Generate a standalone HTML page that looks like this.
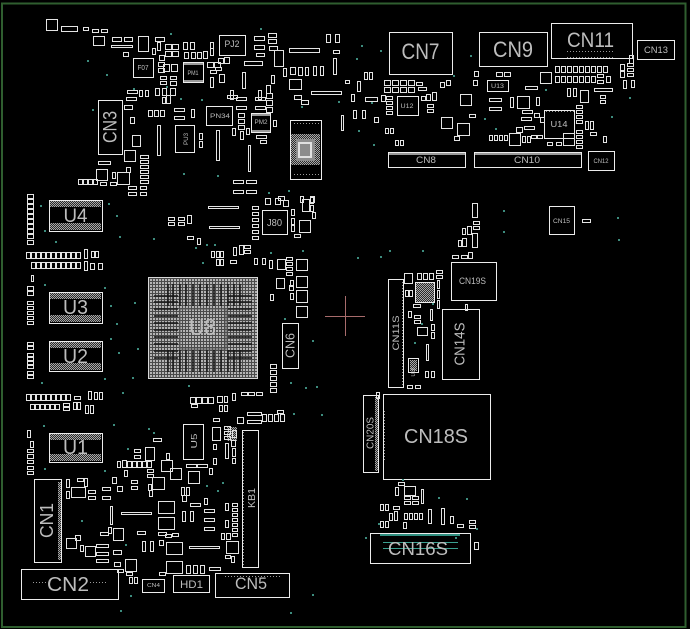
<!DOCTYPE html>
<html><head><meta charset="utf-8">
<style>
html,body{margin:0;padding:0;background:#000;}
body{width:690px;height:629px;overflow:hidden;}
svg{display:block;}
text{font-family:"Liberation Sans",sans-serif;fill:#bdbdbd;}
</style></head>
<body>
<svg width="690" height="629" viewBox="0 0 690 629" xmlns="http://www.w3.org/2000/svg">
<defs>
<pattern id="bga" width="3" height="3" patternUnits="userSpaceOnUse"><rect width="3" height="3" fill="#4a4a4a"/><rect width="2" height="2" fill="#b4b4b4"/></pattern>
<pattern id="chk" width="2" height="2" patternUnits="userSpaceOnUse"><rect width="2" height="2" fill="#2a2a2a"/><rect width="1" height="1" fill="#a8a8a8"/><rect x="1" y="1" width="1" height="1" fill="#a8a8a8"/></pattern>
<pattern id="dots" width="3" height="3" patternUnits="userSpaceOnUse"><rect width="1" height="1" fill="#9a9a9a"/></pattern>
</defs>
<rect width="690" height="629" fill="#000"/>
<rect x="2" y="3.5" width="683.5" height="623.5" fill="none" stroke="#2f5e2f" stroke-width="2"/>

<rect x="148" y="277" width="110" height="102" fill="url(#bga)"/>
<path stroke="#161616" stroke-width="1.5" d="M168 284V306M173 284V306M180 284V306M186 284V306M193 284V306M200 284V306M207 284V306M214 284V306M221 284V306M228 284V306M234 284V306M240 284V306M168 350V372M173 350V372M180 350V372M186 350V372M193 350V372M200 350V372M207 350V372M214 350V372M221 350V372M228 350V372M234 350V372M240 350V372M154 296H178M154 302H178M154 309H178M154 316H178M154 323H178M154 330H178M154 337H178M154 344H178M154 351H178M154 358H178M228 296H252M228 302H252M228 309H252M228 316H252M228 323H252M228 330H252M228 337H252M228 344H252M228 351H252M228 358H252"/>
<rect x="180" y="309" width="46" height="40" fill="none" stroke="#5a5a5a"/>
<rect x="148.5" y="277.5" width="109" height="101" fill="none" stroke="#d8d8d8"/>
<text x="202.5" y="335" font-size="23" text-anchor="middle" textLength="27" lengthAdjust="spacingAndGlyphs" fill="#d0d0d0">U8</text>

<g fill="url(#chk)">
<rect x="50" y="201" width="51" height="6"/><rect x="50" y="223" width="51" height="7"/>
<rect x="50" y="293" width="51" height="6"/><rect x="50" y="315" width="51" height="7"/>
<rect x="50" y="342" width="51" height="6"/><rect x="50" y="363" width="51" height="7"/>
<rect x="50" y="434" width="51" height="6"/><rect x="50" y="454" width="51" height="7"/>
<rect x="291" y="134" width="29" height="31"/>
</g>
<rect x="296" y="139" width="19" height="22" fill="#8c8c8c"/>
<rect x="299" y="143" width="12" height="14" fill="none" stroke="#e0e0e0" stroke-width="2"/>
<rect x="292" y="121" width="27" height="4" fill="url(#dots)"/>
<rect x="292" y="172" width="27" height="5" fill="url(#dots)"/>

<path fill="none" stroke="#ececec" shape-rendering="crispEdges" d="M389.5 32.5h63v42h-63zM479.5 32.5h68v34h-68zM551.5 23.5h81v35h-81zM637.5 40.5h37v19h-37zM388.5 152.5h77v15h-77zM474.5 152.5h107v15h-107zM588.5 151.5h26v19h-26zM544.5 110.5h30v28h-30zM397.5 96.5h21v19h-21zM487.5 80.5h21v11h-21zM98.5 100.5h24v54h-24zM219.5 35.5h26v20h-26zM133.5 58.5h20v19h-20zM183.5 62.5h20v20h-20zM206.5 106.5h26v19h-26zM251.5 113.5h19v19h-19zM175.5 125.5h19v27h-19zM290.5 120.5h31v59h-31zM49.5 200.5h53v31h-53zM49.5 292.5h53v31h-53zM49.5 341.5h53v30h-53zM49.5 433.5h53v29h-53zM282.5 323.5h16v45h-16zM262.5 210.5h25v24h-25zM34.5 479.5h27v83h-27zM21.5 569.5h97v30h-97zM142.5 579.5h22v13h-22zM173.5 575.5h36v17h-36zM215.5 573.5h74v24h-74zM242.5 430.5h16v137h-16zM183.5 424.5h20v35h-20zM549.5 206.5h25v28h-25zM451.5 262.5h45v38h-45zM442.5 309.5h37v70h-37zM388.5 279.5h15v108h-15zM383.5 394.5h107v85h-107zM363.5 395.5h15v77h-15zM370.5 533.5h100v30h-100zM415.5 282.5h19v20h-19zM408.5 358.5h10v14h-10z"/>

<g fill="#9a9a9a">
<rect x="389" y="153" width="76" height="2"/><rect x="475" y="153" width="106" height="2"/>
<rect x="184" y="63" width="19" height="2"/><rect x="184" y="80" width="19" height="2"/>
<rect x="252" y="114" width="18" height="2"/><rect x="252" y="130" width="18" height="2"/>
</g>
<g fill="url(#dots)">
<rect x="400" y="70" width="40" height="2"/><rect x="492" y="61" width="40" height="2"/>
<rect x="565" y="50" width="50" height="2"/><rect x="565" y="56" width="50" height="2"/>
<rect x="545" y="111" width="29" height="2"/><rect x="545" y="136" width="29" height="2"/>
<rect x="243" y="432" width="2" height="133"/><rect x="400" y="281" width="3" height="105"/>
<rect x="384" y="410" width="2" height="52"/><rect x="31" y="582" width="16" height="2"/>
<rect x="90" y="582" width="18" height="2"/><rect x="225" y="575" width="55" height="2"/>
<rect x="25" y="571" width="90" height="2"/>
</g>
<g fill="url(#chk)">
<rect x="58" y="482" width="3" height="78"/><rect x="375" y="397" width="3" height="74"/>
<rect x="416" y="283" width="18" height="19"/><rect x="410" y="360" width="7" height="11"/>
<rect x="227" y="427" width="10" height="14"/>
</g>
<rect x="380" y="534" width="80" height="2" fill="#2f8f80"/>
<rect x="383" y="542" width="75" height="1" fill="#3aa090"/>
<rect x="383" y="548" width="75" height="1" fill="#3aa090"/>
<path d="M325 316.5H365M345.5 296V336" stroke="#a86c6c"/>

<!-- small parts: top-left -->
<path fill="none" stroke="#e4e4e4" shape-rendering="crispEdges" d="M46.5 19.5h11v11h-11zM61.5 26.5h16v5h-16zM83.5 27.5h5v3h-5zM92.5 29.5h6v3h-6zM101.5 29.5h6v3h-6zM93.5 36.5h11v9h-11zM112.5 37.5h9v4h-9zM124.5 37.5h8v4h-8zM138.5 36.5h10v15h-10zM155.5 37.5h9v4h-9zM111.5 45.5h21v2h-21zM123.5 52.5h5v4h-5zM152.5 48.5h3v6h-3zM157.5 42.5h3v8h-3zM165.5 44.5h6v5h-6zM165.5 51.5h6v5h-6zM172.5 44.5h6v5h-6zM172.5 51.5h6v5h-6zM159.5 55.5h5v5h-5zM158.5 62.5h6v4h-6zM158.5 68.5h6v4h-6zM163.5 64.5h6v7h-6zM171.5 64.5h6v7h-6zM160.5 76.5h6v3h-6zM170.5 76.5h6v3h-6zM160.5 81.5h6v3h-6zM170.5 81.5h6v4h-6zM155.5 88.5h4v7h-4zM162.5 88.5h4v7h-4zM170.5 88.5h5v7h-5zM162.5 97.5h3v6h-3zM166.5 95.5h4v8h-4zM183.5 42.5h4v7h-4zM190.5 42.5h4v7h-4zM184.5 52.5h4v6h-4zM191.5 52.5h4v6h-4zM197.5 52.5h4v6h-4zM203.5 51.5h4v7h-4zM210.5 48.5h3v7h-3zM210.5 42.5h3v6h-3zM207.5 62.5h6v5h-6zM214.5 62.5h6v5h-6zM210.5 70.5h6v3h-6zM215.5 67.5h6v3h-6zM218.5 58.5h5v5h-5zM224.5 57.5h5v6h-5zM210.5 77.5h3v10h-3zM219.5 74.5h5v8h-5zM127.5 90.5h10v3h-10zM126.5 97.5h10v3h-10zM139.5 90.5h3v6h-3zM145.5 90.5h3v6h-3zM148.5 110.5h4v6h-4zM154.5 110.5h4v6h-4zM160.5 110.5h4v6h-4zM124.5 105.5h8v4h-8zM130.5 117.5h4v6h-4zM132.5 135.5h8v11h-8zM124.5 150.5h11v11h-11zM157.5 125.5h3v30h-3zM174.5 108.5h10v3h-10zM174.5 116.5h10v3h-10zM191.5 109.5h3v8h-3zM199.5 133.5h3v6h-3zM199.5 141.5h3v6h-3zM216.5 130.5h3v30h-3zM98.5 161.5h12v3h-12zM126.5 167.5h4v5h-4zM96.5 169.5h11v11h-11zM117.5 172.5h12v12h-12zM112.5 172.5h3v6h-3zM140.5 155.5h8v3h-8zM140.5 160.5h8v3h-8zM140.5 165.5h8v3h-8zM140.5 170.5h8v3h-8zM140.5 175.5h8v3h-8zM140.5 180.5h8v3h-8zM78.5 179.5h4v5h-4zM83.5 179.5h4v5h-4zM88.5 179.5h4v5h-4zM93.5 179.5h4v5h-4zM100.5 182.5h6v3h-6zM110.5 182.5h6v3h-6zM128.5 186.5h8v3h-8zM128.5 192.5h8v3h-8zM140.5 186.5h6v3h-6zM140.5 192.5h6v3h-6z"/>

<!-- small parts: upper-middle -->
<path fill="none" stroke="#e4e4e4" shape-rendering="crispEdges" d="M244.5 61.5h18v4h-18zM242.5 72.5h3v16h-3zM254.5 36.5h10v4h-10zM254.5 45.5h10v4h-10zM256.5 53.5h8v3h-8zM268.5 33.5h8v4h-8zM268.5 39.5h8v4h-8zM269.5 46.5h8v4h-8zM274.5 50.5h9v16h-9zM289.5 48.5h30v4h-30zM283.5 68.5h3v8h-3zM271.5 75.5h3v8h-3zM290.5 67.5h5v7h-5zM298.5 67.5h4v8h-4zM305.5 67.5h3v8h-3zM313.5 66.5h3v9h-3zM320.5 66.5h3v9h-3zM289.5 79.5h12v10h-12zM294.5 95.5h7v4h-7zM301.5 100.5h7v4h-7zM311.5 91.5h30v3h-30zM326.5 34.5h4v8h-4zM335.5 34.5h4v8h-4zM333.5 50.5h6v3h-6zM333.5 58.5h3v16h-3zM341.5 115.5h2v15h-2zM227.5 95.5h10v3h-10zM230.5 90.5h3v9h-3zM258.5 90.5h3v9h-3zM266.5 85.5h4v8h-4zM236.5 97.5h10v3h-10zM255.5 97.5h10v3h-10zM266.5 93.5h6v5h-6zM266.5 100.5h6v5h-6zM266.5 107.5h6v5h-6zM236.5 106.5h10v3h-10zM255.5 106.5h10v3h-10zM238.5 113.5h6v4h-6zM238.5 119.5h6v4h-6zM238.5 125.5h6v4h-6zM232.5 128.5h3v7h-3zM240.5 131.5h3v8h-3zM246.5 128.5h3v6h-3zM256.5 135.5h10v3h-10zM260.5 140.5h6v3h-6zM273.5 120.5h3v6h-3zM248.5 145.5h2v26h-2zM233.5 180.5h10v3h-10zM246.5 180.5h10v3h-10zM233.5 190.5h10v3h-10zM246.5 190.5h10v3h-10zM278.5 196.5h6v4h-6zM300.5 196.5h3v6h-3zM310.5 196.5h4v6h-4z"/>

<!-- small parts: top-right -->
<path fill="none" stroke="#e4e4e4" shape-rendering="crispEdges" d="M364.5 72.5h3v7h-3zM369.5 72.5h3v7h-3zM345.5 80.5h4v3h-4zM357.5 81.5h3v10h-3zM365.5 97.5h12v4h-12zM351.5 94.5h3v7h-3zM381.5 95.5h4v6h-4zM353.5 110.5h3v8h-3zM362.5 110.5h3v8h-3zM374.5 117.5h4v5h-4zM384.5 80.5h6v5h-6zM392.5 80.5h6v5h-6zM400.5 80.5h6v5h-6zM408.5 80.5h6v5h-6zM384.5 87.5h6v5h-6zM392.5 87.5h6v5h-6zM400.5 87.5h6v5h-6zM408.5 87.5h6v5h-6zM416.5 82.5h6v3h-6zM418.5 87.5h8v3h-8zM386.5 96.5h6v3h-6zM386.5 101.5h6v3h-6zM386.5 106.5h6v3h-6zM386.5 111.5h6v3h-6zM421.5 96.5h4v4h-4zM426.5 94.5h4v6h-4zM432.5 92.5h4v8h-4zM427.5 104.5h6v3h-6zM427.5 109.5h6v3h-6zM440.5 82.5h4v5h-4zM446.5 80.5h4v5h-4zM460.5 94.5h11v11h-11zM441.5 117.5h11v11h-11zM457.5 123.5h12v12h-12zM454.5 136.5h5v4h-5zM469.5 114.5h6v3h-6zM385.5 128.5h3v5h-3zM390.5 128.5h3v5h-3zM395.5 140.5h3v5h-3zM400.5 140.5h3v5h-3zM474.5 71.5h4v5h-4zM473.5 80.5h4v5h-4zM496.5 72.5h6v4h-6zM504.5 72.5h6v4h-6zM525.5 86.5h12v3h-12zM489.5 98.5h12v3h-12zM489.5 107.5h12v3h-12zM510.5 97.5h3v10h-3zM517.5 96.5h12v12h-12zM536.5 97.5h3v8h-3zM540.5 72.5h11v11h-11zM555.5 66.5h4v6h-4zM561.5 66.5h4v6h-4zM567.5 66.5h4v6h-4zM573.5 66.5h4v6h-4zM579.5 66.5h4v6h-4zM585.5 66.5h4v6h-4zM591.5 66.5h4v6h-4zM597.5 66.5h4v6h-4zM603.5 66.5h4v6h-4zM555.5 76.5h4v6h-4zM561.5 76.5h4v6h-4zM567.5 76.5h4v6h-4zM573.5 76.5h4v6h-4zM579.5 76.5h4v6h-4zM585.5 76.5h4v6h-4zM591.5 76.5h4v6h-4zM597.5 74.5h6v3h-6zM597.5 80.5h6v3h-6zM606.5 76.5h4v6h-4zM567.5 88.5h3v8h-3zM573.5 88.5h3v8h-3zM594.5 88.5h18v3h-18zM580.5 90.5h8v12h-8zM600.5 95.5h5v3h-5zM600.5 100.5h5v3h-5zM620.5 64.5h4v6h-4zM620.5 71.5h4v6h-4zM627.5 63.5h6v3h-6zM627.5 68.5h6v3h-6zM627.5 73.5h6v3h-6zM631.5 80.5h3v7h-3zM623.5 80.5h3v8h-3zM629.5 55.5h4v8h-4zM540.5 117.5h4v5h-4zM522.5 110.5h10v3h-10zM521.5 117.5h10v3h-10zM524.5 126.5h10v3h-10zM516.5 127.5h6v5h-6zM534.5 113.5h5v4h-5zM489.5 135.5h3v5h-3zM494.5 135.5h3v5h-3zM499.5 135.5h3v5h-3zM504.5 135.5h3v5h-3zM509.5 133.5h11v12h-11zM531.5 135.5h5v3h-5zM537.5 135.5h5v3h-5zM522.5 136.5h3v6h-3zM527.5 136.5h3v6h-3zM563.5 133.5h11v12h-11zM576.5 105.5h6v3h-6zM576.5 110.5h6v3h-6zM576.5 115.5h6v3h-6zM576.5 120.5h6v3h-6zM576.5 130.5h6v3h-6zM576.5 135.5h6v3h-6zM576.5 140.5h6v3h-6zM576.5 145.5h6v3h-6zM590.5 132.5h6v3h-6zM603.5 136.5h3v6h-3zM547.5 142.5h5v3h-5zM556.5 142.5h5v3h-5zM585.5 121.5h3v8h-3zM590.5 121.5h3v8h-3z"/>

<!-- small parts: left column -->
<path fill="none" stroke="#e4e4e4" shape-rendering="crispEdges" d="M27.5 194.5h6v4h-6zM27.5 199.5h6v4h-6zM27.5 204.5h6v4h-6zM27.5 209.5h6v4h-6zM27.5 214.5h6v4h-6zM27.5 219.5h6v4h-6zM27.5 224.5h6v4h-6zM27.5 229.5h6v4h-6zM27.5 234.5h6v4h-6zM27.5 240.5h6v4h-6zM26.5 252.5h4v6h-4zM31.5 252.5h4v6h-4zM36.5 252.5h4v6h-4zM41.5 252.5h4v6h-4zM46.5 252.5h4v6h-4zM51.5 252.5h4v6h-4zM56.5 252.5h4v6h-4zM61.5 252.5h4v6h-4zM66.5 252.5h4v6h-4zM71.5 252.5h4v6h-4zM76.5 252.5h4v6h-4zM84.5 249.5h3v9h-3zM91.5 251.5h3v6h-3zM95.5 251.5h3v6h-3zM31.5 262.5h4v6h-4zM36.5 262.5h4v6h-4zM41.5 262.5h4v6h-4zM46.5 262.5h4v6h-4zM51.5 262.5h4v6h-4zM56.5 262.5h4v6h-4zM61.5 262.5h4v6h-4zM66.5 262.5h4v6h-4zM71.5 262.5h4v6h-4zM76.5 262.5h4v6h-4zM84.5 261.5h3v9h-3zM90.5 263.5h4v6h-4zM98.5 263.5h4v6h-4zM31.5 275.5h2v6h-2zM27.5 286.5h6v4h-6zM27.5 291.5h6v4h-6zM27.5 301.5h6v3h-6zM27.5 306.5h6v3h-6zM27.5 311.5h6v3h-6zM27.5 316.5h6v3h-6zM27.5 321.5h6v3h-6zM27.5 342.5h6v3h-6zM27.5 346.5h6v3h-6zM27.5 353.5h6v3h-6zM27.5 357.5h6v3h-6zM27.5 361.5h6v3h-6zM27.5 365.5h6v3h-6zM27.5 371.5h6v3h-6zM27.5 375.5h6v3h-6zM26.5 394.5h4v6h-4zM31.5 394.5h4v6h-4zM36.5 394.5h4v6h-4zM41.5 394.5h4v6h-4zM46.5 394.5h4v6h-4zM51.5 394.5h4v6h-4zM56.5 394.5h4v6h-4zM61.5 394.5h4v6h-4zM66.5 394.5h4v6h-4zM74.5 396.5h6v3h-6zM88.5 391.5h3v8h-3zM94.5 392.5h3v7h-3zM99.5 392.5h3v7h-3zM30.5 404.5h4v5h-4zM35.5 404.5h4v5h-4zM40.5 404.5h4v5h-4zM45.5 404.5h4v5h-4zM50.5 404.5h4v5h-4zM55.5 404.5h4v5h-4zM63.5 403.5h6v3h-6zM63.5 407.5h6v3h-6zM73.5 402.5h3v7h-3zM77.5 402.5h3v7h-3zM85.5 405.5h3v8h-3zM90.5 405.5h3v8h-3zM27.5 430.5h3v7h-3zM30.5 441.5h3v6h-3zM27.5 449.5h6v3h-6zM27.5 454.5h6v4h-6zM27.5 460.5h6v3h-6zM27.5 466.5h6v3h-6zM27.5 471.5h6v3h-6z"/>

<!-- small parts: centre -->
<path fill="none" stroke="#e4e4e4" shape-rendering="crispEdges" d="M208.5 206.5h30v2h-30zM209.5 226.5h30v2h-30zM168.5 217.5h6v3h-6zM168.5 222.5h6v3h-6zM178.5 217.5h6v3h-6zM178.5 222.5h6v3h-6zM187.5 215.5h4v8h-4zM187.5 236.5h6v3h-6zM197.5 238.5h3v6h-3zM211.5 251.5h3v6h-3zM216.5 251.5h3v6h-3zM220.5 251.5h3v6h-3zM216.5 259.5h3v6h-3zM220.5 259.5h3v6h-3zM233.5 247.5h3v8h-3zM239.5 245.5h4v9h-4zM244.5 245.5h6v3h-6zM244.5 250.5h6v3h-6zM254.5 258.5h3v6h-3zM262.5 258.5h3v6h-3zM230.5 260.5h6v3h-6zM252.5 206.5h6v3h-6zM252.5 212.5h6v3h-6zM252.5 218.5h6v3h-6zM252.5 224.5h6v3h-6zM252.5 230.5h6v3h-6zM252.5 236.5h6v3h-6zM265.5 198.5h5v6h-5zM275.5 198.5h5v6h-5zM283.5 200.5h5v6h-5zM291.5 209.5h3v6h-3zM291.5 218.5h3v6h-3zM291.5 225.5h3v6h-3zM302.5 199.5h7v12h-7zM299.5 220.5h11v12h-11zM310.5 197.5h3v6h-3zM310.5 205.5h3v6h-3zM312.5 212.5h3v6h-3zM294.5 234.5h6v3h-6zM296.5 259.5h11v11h-11zM296.5 276.5h11v11h-11zM296.5 290.5h11v12h-11zM296.5 306.5h11v11h-11zM277.5 259.5h8v10h-8zM276.5 278.5h8v10h-8zM286.5 257.5h6v3h-6zM286.5 262.5h6v3h-6zM286.5 267.5h6v3h-6zM286.5 272.5h6v3h-6zM269.5 260.5h3v8h-3zM290.5 280.5h3v6h-3zM270.5 294.5h3v6h-3zM290.5 293.5h3v6h-3zM289.5 285.5h4v5h-4zM270.5 364.5h6v4h-6zM270.5 370.5h6v4h-6zM270.5 376.5h6v4h-6zM270.5 382.5h6v4h-6zM270.5 388.5h6v4h-6zM190.5 397.5h5v6h-5zM196.5 397.5h5v6h-5zM202.5 397.5h5v6h-5zM208.5 397.5h5v6h-5zM217.5 396.5h5v6h-5zM224.5 396.5h3v6h-3zM232.5 393.5h3v7h-3zM241.5 392.5h6v3h-6zM248.5 392.5h6v3h-6zM256.5 392.5h6v3h-6zM191.5 404.5h6v3h-6zM219.5 405.5h3v6h-3zM224.5 405.5h3v6h-3z"/>

<!-- small parts: bottom-left -->
<path fill="none" stroke="#e4e4e4" shape-rendering="crispEdges" d="M247.5 412.5h14v3h-14zM247.5 420.5h14v3h-14zM262.5 414.5h4v7h-4zM268.5 414.5h4v7h-4zM274.5 414.5h4v7h-4zM280.5 414.5h4v7h-4zM277.5 410.5h6v3h-6zM237.5 417.5h6v6h-6zM212.5 427.5h8v13h-8zM213.5 418.5h6v3h-6zM213.5 444.5h3v5h-3zM224.5 426.5h6v3h-6zM224.5 431.5h6v3h-6zM224.5 436.5h6v3h-6zM225.5 443.5h3v15h-3zM232.5 448.5h3v8h-3zM232.5 458.5h3v5h-3zM232.5 430.5h4v7h-4zM231.5 440.5h4v6h-4zM213.5 458.5h3v6h-3zM186.5 464.5h10v3h-10zM197.5 464.5h10v3h-10zM188.5 471.5h11v12h-11zM209.5 468.5h3v6h-3zM153.5 438.5h8v3h-8zM145.5 447.5h9v13h-9zM134.5 449.5h6v3h-6zM134.5 455.5h6v3h-6zM166.5 453.5h3v6h-3zM117.5 461.5h3v6h-3zM122.5 460.5h4v7h-4zM127.5 461.5h4v6h-4zM132.5 461.5h4v6h-4zM137.5 461.5h4v6h-4zM142.5 461.5h4v6h-4zM147.5 461.5h4v6h-4zM161.5 460.5h11v11h-11zM170.5 468.5h11v11h-11zM152.5 477.5h12v12h-12zM147.5 469.5h6v3h-6zM147.5 474.5h6v3h-6zM131.5 480.5h6v3h-6zM131.5 486.5h6v3h-6zM148.5 484.5h3v6h-3zM149.5 490.5h3v6h-3zM181.5 487.5h3v8h-3zM186.5 487.5h3v8h-3zM182.5 495.5h4v6h-4zM190.5 503.5h10v3h-10zM204.5 498.5h3v6h-3zM158.5 501.5h16v12h-16zM158.5 517.5h16v12h-16zM182.5 511.5h3v10h-3zM190.5 511.5h3v10h-3zM204.5 509.5h10v3h-10zM204.5 518.5h10v3h-10zM204.5 527.5h10v3h-10zM225.5 503.5h3v7h-3zM225.5 520.5h3v7h-3zM232.5 503.5h5v3h-5zM232.5 508.5h5v3h-5zM232.5 513.5h5v3h-5zM232.5 518.5h5v3h-5zM232.5 523.5h5v3h-5zM232.5 528.5h5v3h-5zM232.5 533.5h5v3h-5zM221.5 533.5h3v6h-3zM226.5 533.5h4v6h-4zM226.5 541.5h12v12h-12zM225.5 555.5h5v3h-5zM231.5 556.5h3v6h-3zM186.5 565.5h4v8h-4zM193.5 565.5h4v8h-4zM200.5 565.5h4v8h-4zM209.5 567.5h11v3h-11zM166.5 542.5h16v12h-16zM166.5 561.5h16v12h-16zM158.5 532.5h8v3h-8zM165.5 534.5h6v3h-6zM172.5 533.5h6v3h-6zM189.5 546.5h30v2h-30zM142.5 541.5h3v10h-3zM150.5 541.5h3v10h-3zM159.5 540.5h4v5h-4zM137.5 531.5h8v3h-8zM159.5 572.5h6v3h-6zM129.5 577.5h3v6h-3zM134.5 577.5h3v6h-3zM126.5 572.5h6v3h-6zM125.5 559.5h11v12h-11zM114.5 562.5h6v4h-6zM117.5 569.5h6v3h-6zM113.5 550.5h8v4h-8zM113.5 528.5h10v12h-10zM108.5 527.5h3v6h-3zM100.5 532.5h8v3h-8zM96.5 544.5h12v3h-12zM96.5 552.5h12v3h-12zM96.5 559.5h12v3h-12zM85.5 546.5h10v10h-10zM66.5 538.5h10v10h-10zM75.5 535.5h5v5h-5zM80.5 545.5h3v6h-3zM110.5 506.5h2v18h-2zM121.5 512.5h30v2h-30zM102.5 487.5h8v3h-8zM102.5 496.5h8v3h-8zM88.5 490.5h7v3h-7zM88.5 496.5h7v3h-7zM71.5 487.5h14v10h-14zM66.5 479.5h3v8h-3zM77.5 478.5h6v3h-6zM84.5 478.5h3v8h-3zM66.5 491.5h3v7h-3zM112.5 477.5h4v6h-4zM117.5 486.5h5v5h-5zM124.5 470.5h3v6h-3z"/>

<!-- small parts: right -->
<path fill="none" stroke="#e4e4e4" shape-rendering="crispEdges" d="M472.5 203.5h5v14h-5zM473.5 221.5h6v3h-6zM473.5 226.5h6v3h-6zM462.5 228.5h3v6h-3zM467.5 226.5h4v8h-4zM458.5 240.5h3v6h-3zM462.5 238.5h4v8h-4zM472.5 233.5h5v14h-5zM452.5 255.5h6v3h-6zM461.5 255.5h6v3h-6zM468.5 252.5h4v6h-4zM582.5 219.5h8v3h-8zM404.5 273.5h8v10h-8zM417.5 273.5h4v6h-4zM423.5 273.5h4v6h-4zM429.5 273.5h4v6h-4zM436.5 270.5h6v3h-6zM436.5 275.5h6v3h-6zM405.5 290.5h3v6h-3zM409.5 290.5h3v6h-3zM437.5 280.5h2v8h-2zM437.5 290.5h2v8h-2zM437.5 300.5h2v8h-2zM413.5 304.5h7v3h-7zM408.5 311.5h3v6h-3zM414.5 315.5h6v3h-6zM414.5 320.5h6v3h-6zM417.5 327.5h10v8h-10zM430.5 309.5h2v11h-2zM431.5 324.5h3v6h-3zM431.5 332.5h3v6h-3zM426.5 344.5h2v16h-2zM425.5 371.5h3v6h-3zM431.5 371.5h3v6h-3zM407.5 385.5h5v3h-5zM415.5 385.5h5v3h-5zM465.5 304.5h2v6h-2zM376.5 392.5h3v6h-3zM398.5 482.5h6v3h-6zM395.5 487.5h3v8h-3zM404.5 486.5h11v9h-11zM421.5 489.5h2v14h-2zM404.5 496.5h6v3h-6zM412.5 496.5h6v3h-6zM404.5 501.5h6v3h-6zM412.5 501.5h6v3h-6zM380.5 504.5h3v6h-3zM385.5 504.5h3v6h-3zM393.5 506.5h6v3h-6zM389.5 513.5h3v7h-3zM394.5 511.5h3v9h-3zM404.5 513.5h3v6h-3zM409.5 513.5h3v6h-3zM414.5 513.5h3v6h-3zM419.5 513.5h3v6h-3zM428.5 509.5h3v14h-3zM441.5 508.5h3v16h-3zM450.5 516.5h3v7h-3zM457.5 524.5h6v3h-6zM469.5 520.5h6v3h-6zM469.5 525.5h6v3h-6zM380.5 521.5h3v6h-3zM385.5 521.5h3v6h-3zM403.5 522.5h3v6h-3zM474.5 542.5h4v7h-4z"/>

<!-- vias -->
<path stroke="#3d8c7e" stroke-width="2" stroke-linecap="square" d="M88 61h0M107 75h0M93 110h0M171 34h0M167 87h0M181 99h0M134 89h0M218 176h0M184 174h0M202 100h0M261 29h0M302 107h0M339 102h0M269 193h0M289 191h0M362 46h0M381 51h0M357 59h0M359 131h0M374 145h0M372 103h0M454 76h0M485 119h0M496 129h0M612 117h0M630 98h0M546 90h0M471 56h0M41 206h0M45 231h0M109 204h0M117 216h0M120 237h0M56 242h0M45 285h0M105 288h0M111 306h0M117 324h0M111 339h0M119 353h0M105 379h0M42 383h0M123 393h0M114 425h0M44 426h0M45 469h0M105 471h0M154 239h0M196 248h0M203 263h0M207 245h0M215 245h0M271 253h0M303 251h0M285 319h0M313 341h0M291 383h0M306 388h0M317 387h0M189 386h0M135 303h0M138 349h0M133 378h0M149 429h0M154 433h0M128 449h0M207 486h0M223 483h0M218 491h0M126 545h0M82 521h0M294 414h0M121 611h0M291 613h0M313 595h0M322 415h0M131 596h0M358 258h0M381 257h0M390 251h0M423 251h0M504 211h0M504 232h0M618 218h0M619 240h0M422 324h0M433 304h0M415 343h0M366 538h0M403 480h0M439 498h0M467 499h0M477 529h0M379 524h0M456 538h0"/>

<!-- labels -->
<text x="420.5" y="59" font-size="22" text-anchor="middle" textLength="38" lengthAdjust="spacingAndGlyphs">CN7</text>
<text x="513" y="57" font-size="22" text-anchor="middle" textLength="40" lengthAdjust="spacingAndGlyphs">CN9</text>
<text x="590.5" y="47" font-size="21" text-anchor="middle" textLength="47" lengthAdjust="spacingAndGlyphs">CN11</text>
<text x="656" y="53" font-size="9" text-anchor="middle" textLength="24" lengthAdjust="spacingAndGlyphs" fill="#9a9a9a">CN13</text>
<text x="426" y="163" font-size="9" text-anchor="middle" textLength="20" lengthAdjust="spacingAndGlyphs" fill="#9a9a9a">CN8</text>
<text x="527" y="163" font-size="9" text-anchor="middle" textLength="26" lengthAdjust="spacingAndGlyphs" fill="#9a9a9a">CN10</text>
<text x="601" y="163" font-size="6" text-anchor="middle" textLength="15" lengthAdjust="spacingAndGlyphs" fill="#9a9a9a">CN12</text>
<text x="559" y="127" font-size="8" text-anchor="middle" textLength="17" lengthAdjust="spacingAndGlyphs" fill="#9a9a9a">U14</text>
<text x="407" y="108" font-size="6" text-anchor="middle" textLength="13" lengthAdjust="spacingAndGlyphs" fill="#9a9a9a">U12</text>
<text x="497.5" y="88" font-size="6" text-anchor="middle" textLength="13" lengthAdjust="spacingAndGlyphs" fill="#9a9a9a">U13</text>
<text x="561.5" y="223" font-size="6" text-anchor="middle" textLength="17" lengthAdjust="spacingAndGlyphs" fill="#9a9a9a">CN15</text>
<text x="232" y="47" font-size="9" text-anchor="middle" textLength="15" lengthAdjust="spacingAndGlyphs" fill="#a0a0a0">PJ2</text>
<text x="143" y="70" font-size="7" text-anchor="middle" textLength="11" lengthAdjust="spacingAndGlyphs" fill="#a0a0a0">F07</text>
<text x="193" y="75" font-size="6" text-anchor="middle" textLength="11" lengthAdjust="spacingAndGlyphs" fill="#a0a0a0">PM1</text>
<text x="220" y="118" font-size="6" text-anchor="middle" textLength="20" lengthAdjust="spacingAndGlyphs" fill="#a0a0a0">PN34</text>
<text x="261" y="124" font-size="6" text-anchor="middle" textLength="13" lengthAdjust="spacingAndGlyphs" fill="#a0a0a0">PM2</text>
<text transform="translate(188,139) rotate(-90)" font-size="6" text-anchor="middle" textLength="12" lengthAdjust="spacingAndGlyphs" fill="#a0a0a0">PU3</text>
<text transform="translate(116.5,127) rotate(-90)" font-size="19" text-anchor="middle" textLength="32" lengthAdjust="spacingAndGlyphs">CN3</text>
<text x="75.5" y="222" font-size="19" text-anchor="middle" textLength="24" lengthAdjust="spacingAndGlyphs" fill="#a8a8a8">U4</text>
<text x="75.5" y="314" font-size="20" text-anchor="middle" textLength="25" lengthAdjust="spacingAndGlyphs" fill="#a8a8a8">U3</text>
<text x="75.5" y="363" font-size="20" text-anchor="middle" textLength="25" lengthAdjust="spacingAndGlyphs" fill="#a8a8a8">U2</text>
<text x="75.5" y="454" font-size="20" text-anchor="middle" textLength="25" lengthAdjust="spacingAndGlyphs" fill="#a8a8a8">U1</text>
<text x="274.5" y="226" font-size="10" text-anchor="middle" textLength="15" lengthAdjust="spacingAndGlyphs" fill="#a0a0a0">J80</text>
<text transform="translate(294.5,345.5) rotate(-90)" font-size="13" text-anchor="middle" textLength="25" lengthAdjust="spacingAndGlyphs">CN6</text>
<text transform="translate(399,333) rotate(-90)" font-size="9" text-anchor="middle" textLength="35" lengthAdjust="spacingAndGlyphs" fill="#a8a8a8">CN11S</text>
<text x="472.5" y="284" font-size="9" text-anchor="middle" textLength="27" lengthAdjust="spacingAndGlyphs" fill="#a8a8a8">CN19S</text>
<text transform="translate(464.5,344) rotate(-90)" font-size="15" text-anchor="middle" textLength="43" lengthAdjust="spacingAndGlyphs">CN14S</text>
<text transform="translate(415,372) rotate(-90)" font-size="5" text-anchor="middle" textLength="9" lengthAdjust="spacingAndGlyphs" fill="#a0a0a0">U16</text>
<text x="436" y="443" font-size="20" text-anchor="middle" textLength="64" lengthAdjust="spacingAndGlyphs">CN18S</text>
<text transform="translate(373.5,433) rotate(-90)" font-size="10" text-anchor="middle" textLength="32" lengthAdjust="spacingAndGlyphs" fill="#a8a8a8">CN20S</text>
<text x="418" y="555" font-size="18" text-anchor="middle" textLength="60" lengthAdjust="spacingAndGlyphs" fill="#c4c4c4">CN16S</text>
<text transform="translate(53,520.5) rotate(-90)" font-size="18" text-anchor="middle" textLength="35" lengthAdjust="spacingAndGlyphs">CN1</text>
<text x="68" y="591" font-size="20" text-anchor="middle" textLength="42" lengthAdjust="spacingAndGlyphs">CN2</text>
<text x="153.5" y="587" font-size="5" text-anchor="middle" textLength="13" lengthAdjust="spacingAndGlyphs" fill="#a0a0a0">CN4</text>
<text x="191.5" y="588" font-size="11" text-anchor="middle" textLength="23" lengthAdjust="spacingAndGlyphs">HD1</text>
<text x="251" y="589" font-size="17" text-anchor="middle" textLength="32" lengthAdjust="spacingAndGlyphs">CN5</text>
<text transform="translate(255,498) rotate(-90)" font-size="10" text-anchor="middle" textLength="20" lengthAdjust="spacingAndGlyphs" fill="#a8a8a8">KB1</text>
<text transform="translate(197,441) rotate(-90)" font-size="8" text-anchor="middle" textLength="15" lengthAdjust="spacingAndGlyphs" fill="#a8a8a8">U5</text>
</svg>
</body></html>
